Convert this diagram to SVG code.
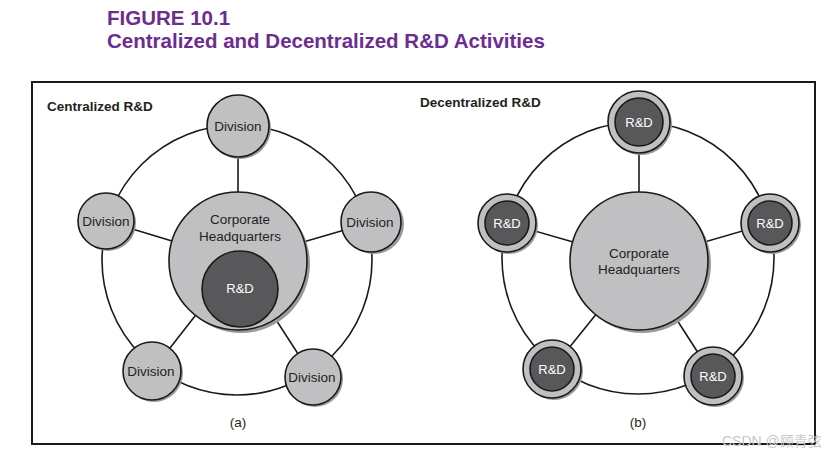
<svg xmlns="http://www.w3.org/2000/svg" width="837" height="457" viewBox="0 0 837 457">
<defs>
<style>
.ttl{font-family:"Liberation Sans",Arial,sans-serif;font-weight:bold;font-size:20.5px;fill:#6b2d90}
.hd{font-family:"Liberation Sans",Arial,sans-serif;font-weight:bold;font-size:13.5px;fill:#231f20}
.lb{font-family:"Liberation Sans",Arial,sans-serif;font-size:13.5px;fill:#231f20;text-anchor:middle}
.wl{font-family:"Liberation Sans",Arial,sans-serif;font-size:13px;fill:#ffffff;text-anchor:middle}
.lt{fill:#c0c0c2;stroke:#1a1a1a;stroke-width:1.6}
.dk{fill:#58585a;stroke:#1a1a1a;stroke-width:1.6}
.sh{fill:#9a9a9c}
.ring{fill:none;stroke:#1a1a1a;stroke-width:1.6}
.ln{stroke:#1a1a1a;stroke-width:1.6}
.wm{font-family:"Liberation Sans","Noto Sans CJK SC",sans-serif;font-size:14px;fill:#c8c8c8}
</style>
</defs>
<rect width="837" height="457" fill="#ffffff"/>
<text class="ttl" x="107" y="25">FIGURE 10.1</text>
<text class="ttl" x="107" y="48">Centralized and Decentralized R&amp;D Activities</text>
<rect x="32" y="82" width="783" height="362" fill="none" stroke="#1a1a1a" stroke-width="2"/>
<text class="hd" x="47" y="111">Centralized R&amp;D</text>
<text class="hd" x="420" y="107">Decentralized R&amp;D</text>

<g id="connectors">
<circle class="ring" cx="237" cy="260" r="135"/>
<line class="ln" x1="238" y1="261" x2="238" y2="126"/>
<line class="ln" x1="238" y1="261" x2="106" y2="221"/>
<line class="ln" x1="238" y1="261" x2="372" y2="222"/>
<line class="ln" x1="238" y1="261" x2="152" y2="371"/>
<line class="ln" x1="238" y1="261" x2="313" y2="377"/>
<circle class="ring" cx="638" cy="258" r="136"/>
<line class="ln" x1="639" y1="261" x2="639" y2="122"/>
<line class="ln" x1="639" y1="261" x2="507" y2="223"/>
<line class="ln" x1="639" y1="261" x2="770" y2="223"/>
<line class="ln" x1="639" y1="261" x2="552" y2="369"/>
<line class="ln" x1="639" y1="261" x2="713" y2="376"/>
</g>

<g id="hq-a">
<circle class="sh" cx="241" cy="264" r="69"/>
<circle class="lt" cx="238" cy="261" r="69"/>
<text class="lb" x="240" y="224">Corporate</text>
<text class="lb" x="240" y="241">Headquarters</text>
<circle class="dk" cx="240" cy="289" r="38"/>
<text class="wl" x="240" y="293">R&amp;D</text>
</g>
<g id="div-top">
<circle class="sh" cx="240" cy="128" r="31"/>
<circle class="lt" cx="238" cy="126" r="31"/>
<text class="lb" x="238" y="131">Division</text>
</g>
<g id="div-left">
<circle class="sh" cx="108" cy="223" r="28"/>
<circle class="lt" cx="106" cy="221" r="28"/>
<text class="lb" x="106" y="226">Division</text>
</g>
<g id="div-right">
<circle class="sh" cx="374" cy="224" r="30"/>
<circle class="lt" cx="371" cy="222" r="30"/>
<text class="lb" x="370" y="227">Division</text>
</g>
<g id="div-bl">
<circle class="sh" cx="154" cy="373" r="29"/>
<circle class="lt" cx="152" cy="371" r="29"/>
<text class="lb" x="151" y="376">Division</text>
</g>
<g id="div-br">
<circle class="sh" cx="315" cy="379" r="28"/>
<circle class="lt" cx="313" cy="377" r="28"/>
<text class="lb" x="312" y="382">Division</text>
</g>
<text class="lb" x="238" y="427">(a)</text>

<g id="hq-b">
<circle class="sh" cx="642" cy="264" r="69"/>
<circle class="lt" cx="639" cy="261" r="69"/>
<text class="lb" x="639" y="258">Corporate</text>
<text class="lb" x="639" y="274">Headquarters</text>
</g>
<g id="rd-top">
<circle class="sh" cx="641" cy="124" r="31"/>
<circle class="lt" cx="639" cy="122" r="31"/>
<circle class="dk" cx="639" cy="122" r="24"/>
<text class="wl" x="639" y="127">R&amp;D</text>
</g>
<g id="rd-left">
<circle class="sh" cx="509" cy="225" r="29"/>
<circle class="lt" cx="507" cy="223" r="29"/>
<circle class="dk" cx="507" cy="223" r="22"/>
<text class="wl" x="507" y="228">R&amp;D</text>
</g>
<g id="rd-right">
<circle class="sh" cx="772" cy="225" r="29"/>
<circle class="lt" cx="770" cy="223" r="29"/>
<circle class="dk" cx="770" cy="223" r="22"/>
<text class="wl" x="770" y="228">R&amp;D</text>
</g>
<g id="rd-bl">
<circle class="sh" cx="554" cy="371" r="29"/>
<circle class="lt" cx="552" cy="369" r="29"/>
<circle class="dk" cx="552" cy="369" r="22"/>
<text class="wl" x="552" y="374">R&amp;D</text>
</g>
<g id="rd-br">
<circle class="sh" cx="715" cy="378" r="29"/>
<circle class="lt" cx="713" cy="376" r="29"/>
<circle class="dk" cx="713" cy="376" r="22"/>
<text class="wl" x="713" y="381">R&amp;D</text>
</g>
<text class="lb" x="638" y="427">(b)</text>
<text class="wm" x="722" y="446">CSDN @顾青弦</text>
</svg>
